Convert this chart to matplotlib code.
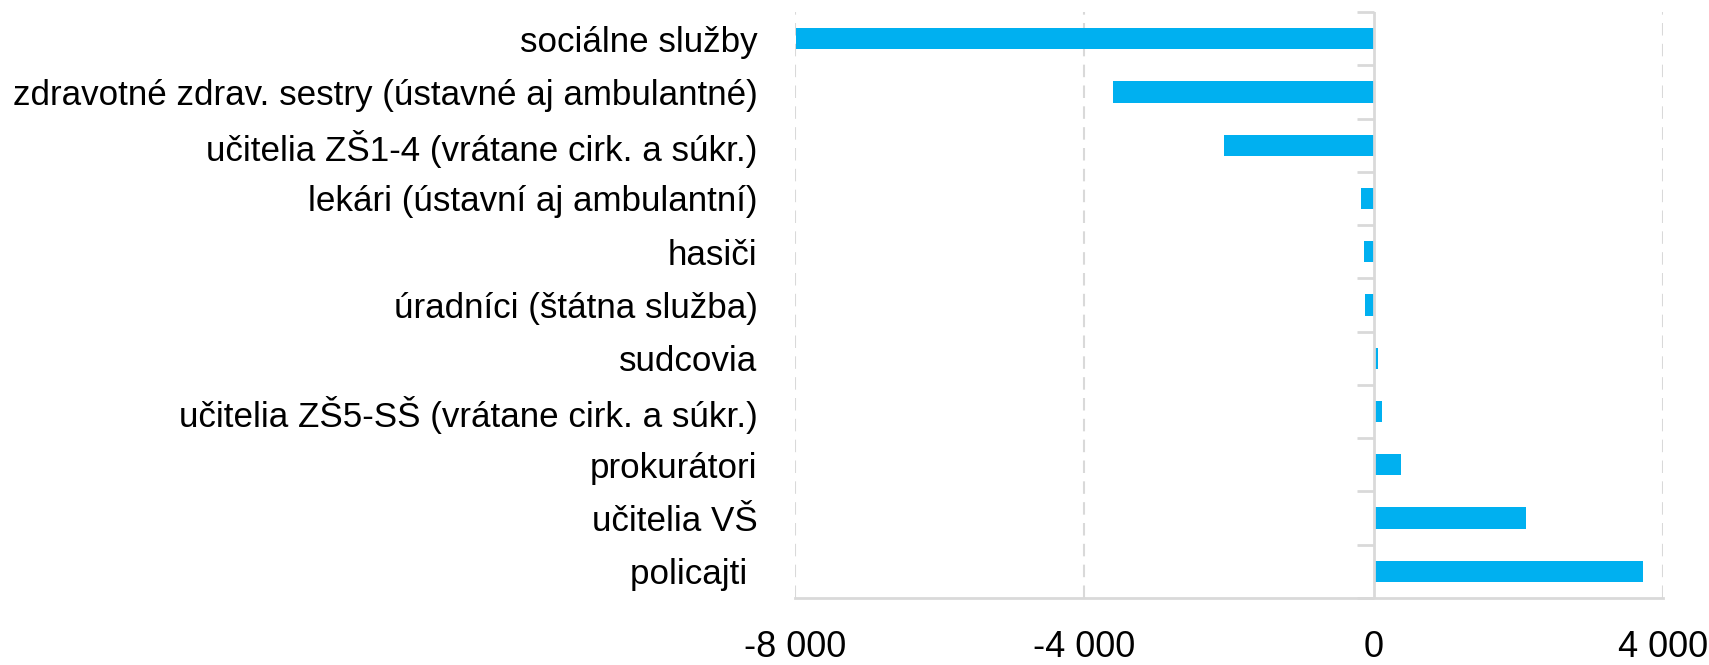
import numpy as np
import matplotlib
matplotlib.use('Agg')
import matplotlib.pyplot as plt
from matplotlib.ticker import FuncFormatter

plt.rcParams['font.family'] = ['Liberation Sans', 'DejaVu Sans']

categories = ['sociálne služby',
              'zdravotné zdrav. sestry (ústavné aj ambulantné)',
              'učitelia ZŠ1-4 (vrátane cirk. a súkr.)',
              'lekári (ústavní aj ambulantní)',
              'hasiči',
              'úradníci (štátna služba)',
              'sudcovia',
              'učitelia ZŠ5-SŠ (vrátane cirk. a súkr.)',
              'prokurátori',
              'učitelia VŠ',
              'policajti ']
values = [-7980, -3610, -2075, -180, -130, -125, 65, 110, 380, 2110, 3725]
xticks = [-8000, -4000, 0, 4000]

grey = '#d9d9d9'
fig = plt.figure(figsize=(17.09, 6.65), dpi=100)
ax = fig.add_axes([795/1709, 1-598/665, (1663-795)/1709, (598-12)/665])

y = np.arange(len(categories))
ax.barh(y, values, height=0.4, color='#00b0f0', zorder=3)
ax.set_ylim(len(categories)-0.5, -0.5)
ax.set_xlim(-8000, 4000)

ax.set_yticks(y)
ax.set_yticklabels(categories, fontsize=25.2)
ax.tick_params(axis='y', length=0, pad=27)

ax.set_xticks(xticks)
ax.xaxis.set_major_formatter(FuncFormatter(lambda v, p: f'{int(v):,}'.replace(',', ' ')))
ax.tick_params(axis='x', length=0, pad=23, labelsize=26)

# dashed gridlines, except at zero where the axis line is
for v in xticks:
    if v != 0:
        ax.axvline(v, color=grey, linestyle=(0, (6, 4)), linewidth=1.5, zorder=0)
ax.axvline(0, color=grey, linewidth=2, zorder=4)

for s in ['left', 'top', 'right']:
    ax.spines[s].set_visible(False)
ax.spines['bottom'].set_color(grey)
ax.spines['bottom'].set_linewidth(2)

# category boundary ticks on the zero axis, pointing left
sec = ax.secondary_yaxis(2/3)
sec.set_yticks(np.arange(len(categories)+1) - 0.5)
sec.set_yticklabels([])
sec.tick_params(axis='y', length=12, width=2, color=grey, direction='in')
for s in sec.spines.values():
    s.set_visible(False)

fig.savefig('out.png', dpi=100)
